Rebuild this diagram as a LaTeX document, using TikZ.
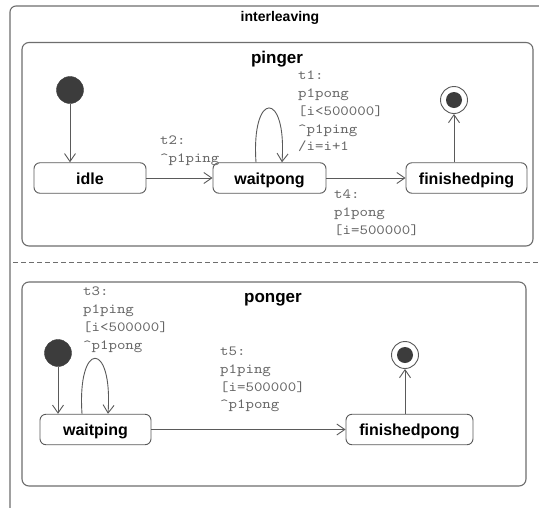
\documentclass[tikz,border=0pt]{standalone}
\usepackage{fontspec}
\setmainfont{Liberation Sans}
\newfontfamily\guardfont{lmmono10-regular.otf}[FakeStretch=1.15]
\usetikzlibrary{arrows.meta}

\definecolor{edgegray}{HTML}{5A5A5A}
\definecolor{framegray}{HTML}{6E6E6E}
\definecolor{dotfill}{HTML}{3C3C3C}
\definecolor{labelgray}{HTML}{666666}

\tikzset{
  frame/.style={draw=framegray, line width=1.1pt, rounded corners=6pt},
  region/.style={draw=framegray, line width=1.1pt, rounded corners=7pt},
  statebox/.style={draw=edgegray, line width=0.9pt, rounded corners=6pt, fill=white,
    font=\fontsize{16}{18}\selectfont\bfseries, text height=12pt, text depth=0pt,
    inner sep=0pt, minimum height=30.5pt},
  title/.style={font=\fontsize{17}{20}\selectfont\bfseries, anchor=base, inner sep=0pt},
  maintitle/.style={font=\fontsize{14}{16}\selectfont\bfseries, anchor=base, inner sep=0pt},
  initdot/.style={circle, fill=dotfill, draw=dotfill, minimum size=27pt, inner sep=0pt},
  finalring/.style={circle, draw=edgegray, line width=0.9pt, fill=white, minimum size=27pt, inner sep=0pt},
  finaldot/.style={circle, fill=dotfill, minimum size=16pt, inner sep=0pt},
  trans/.style={draw=edgegray, line width=0.9pt, -{Straight Barb[length=8pt,width=11pt]}},
  guard/.style={font=\guardfont\fontsize{14}{17.7}\selectfont,
    text=labelgray, align=left, anchor=north west, inner sep=0pt},
}

\begin{document}
\begin{tikzpicture}[x=1pt, y=-1pt]
\useasboundingbox (0,0) rectangle (539,507);
\fill[white] (0,0) rectangle (539,507);

% enclosing state, running off the right and bottom edges
\draw[frame] (10,520) -- (10,6) -- (560,6);
\node[maintitle] (maintitle) at (280,21.5) {interleaving};

% pinger region
\draw[region] (22,42.5) rectangle (533,246);
\node[title] (pingertitle) at (277,63) {pinger};

\node[initdot] (pinit) at (70,90) {};
\node[statebox, minimum width=112pt] (idle) at (90,178) {idle};
\node[statebox, minimum width=113pt] (waitpong) at (269.5,178) {waitpong};
\node[statebox, minimum width=121pt] (finishedping) at (466.5,178) {finishedping};
\node[finalring] (pfinal) at (454,100) {};
\node[finaldot] (pfinaldot) at (pfinal) {};

\draw[trans] (pinit) -- (pinit |- idle.north);
\draw[trans] (idle) -- (waitpong);
\draw[trans] (waitpong) -- (finishedping);
\draw[trans] (finishedping.north -| pfinal) -- (pfinal);
\draw[trans] ([xshift=-13.5pt]waitpong.north) .. controls (251,90) and (287,90) .. ([xshift=12.5pt]waitpong.north);

\node[guard] (t1) at (298,71) {t1:\\p1pong\\{[i<500000]}\\\textasciicircum p1ping\\/i=i+1};
\node[guard] (t2) at (160,136) {t2:\\\textasciicircum p1ping};
\node[guard] (t4) at (334,190) {t4:\\p1pong\\{[i=500000]}};

% region separator
\draw[draw=framegray, line width=1pt, dash pattern=on 5pt off 3pt] (13,262) -- (545,262);

% ponger region
\draw[region] (22,282) rectangle (526,486);
\node[title] (pongertitle) at (273,302) {ponger};

\node[initdot] (qinit) at (58,353) {};
\node[statebox, minimum width=111pt] (waitping) at (95.5,429.5) {waitping};
\node[statebox, minimum width=127pt] (finishedpong) at (409.5,429.5) {finishedpong};
\node[finalring] (qfinal) at (405,355) {};
\node[finaldot] (qfinaldot) at (qfinal) {};

\draw[trans] (qinit) -- (qinit |- waitping.north);
\draw[trans] (waitping) -- (finishedpong);
\draw[trans] (finishedpong.north -| qfinal) -- (qfinal);
\draw[trans] ([xshift=-13.5pt]waitping.north) .. controls (77,340) and (113,340) .. ([xshift=12.5pt]waitping.north);

\node[guard] (t3) at (83,287) {t3:\\p1ping\\{[i<500000]}\\\textasciicircum p1pong};
\node[guard] (t5) at (220,347) {t5:\\p1ping\\{[i=500000]}\\\textasciicircum p1pong};
\end{tikzpicture}
\end{document}
